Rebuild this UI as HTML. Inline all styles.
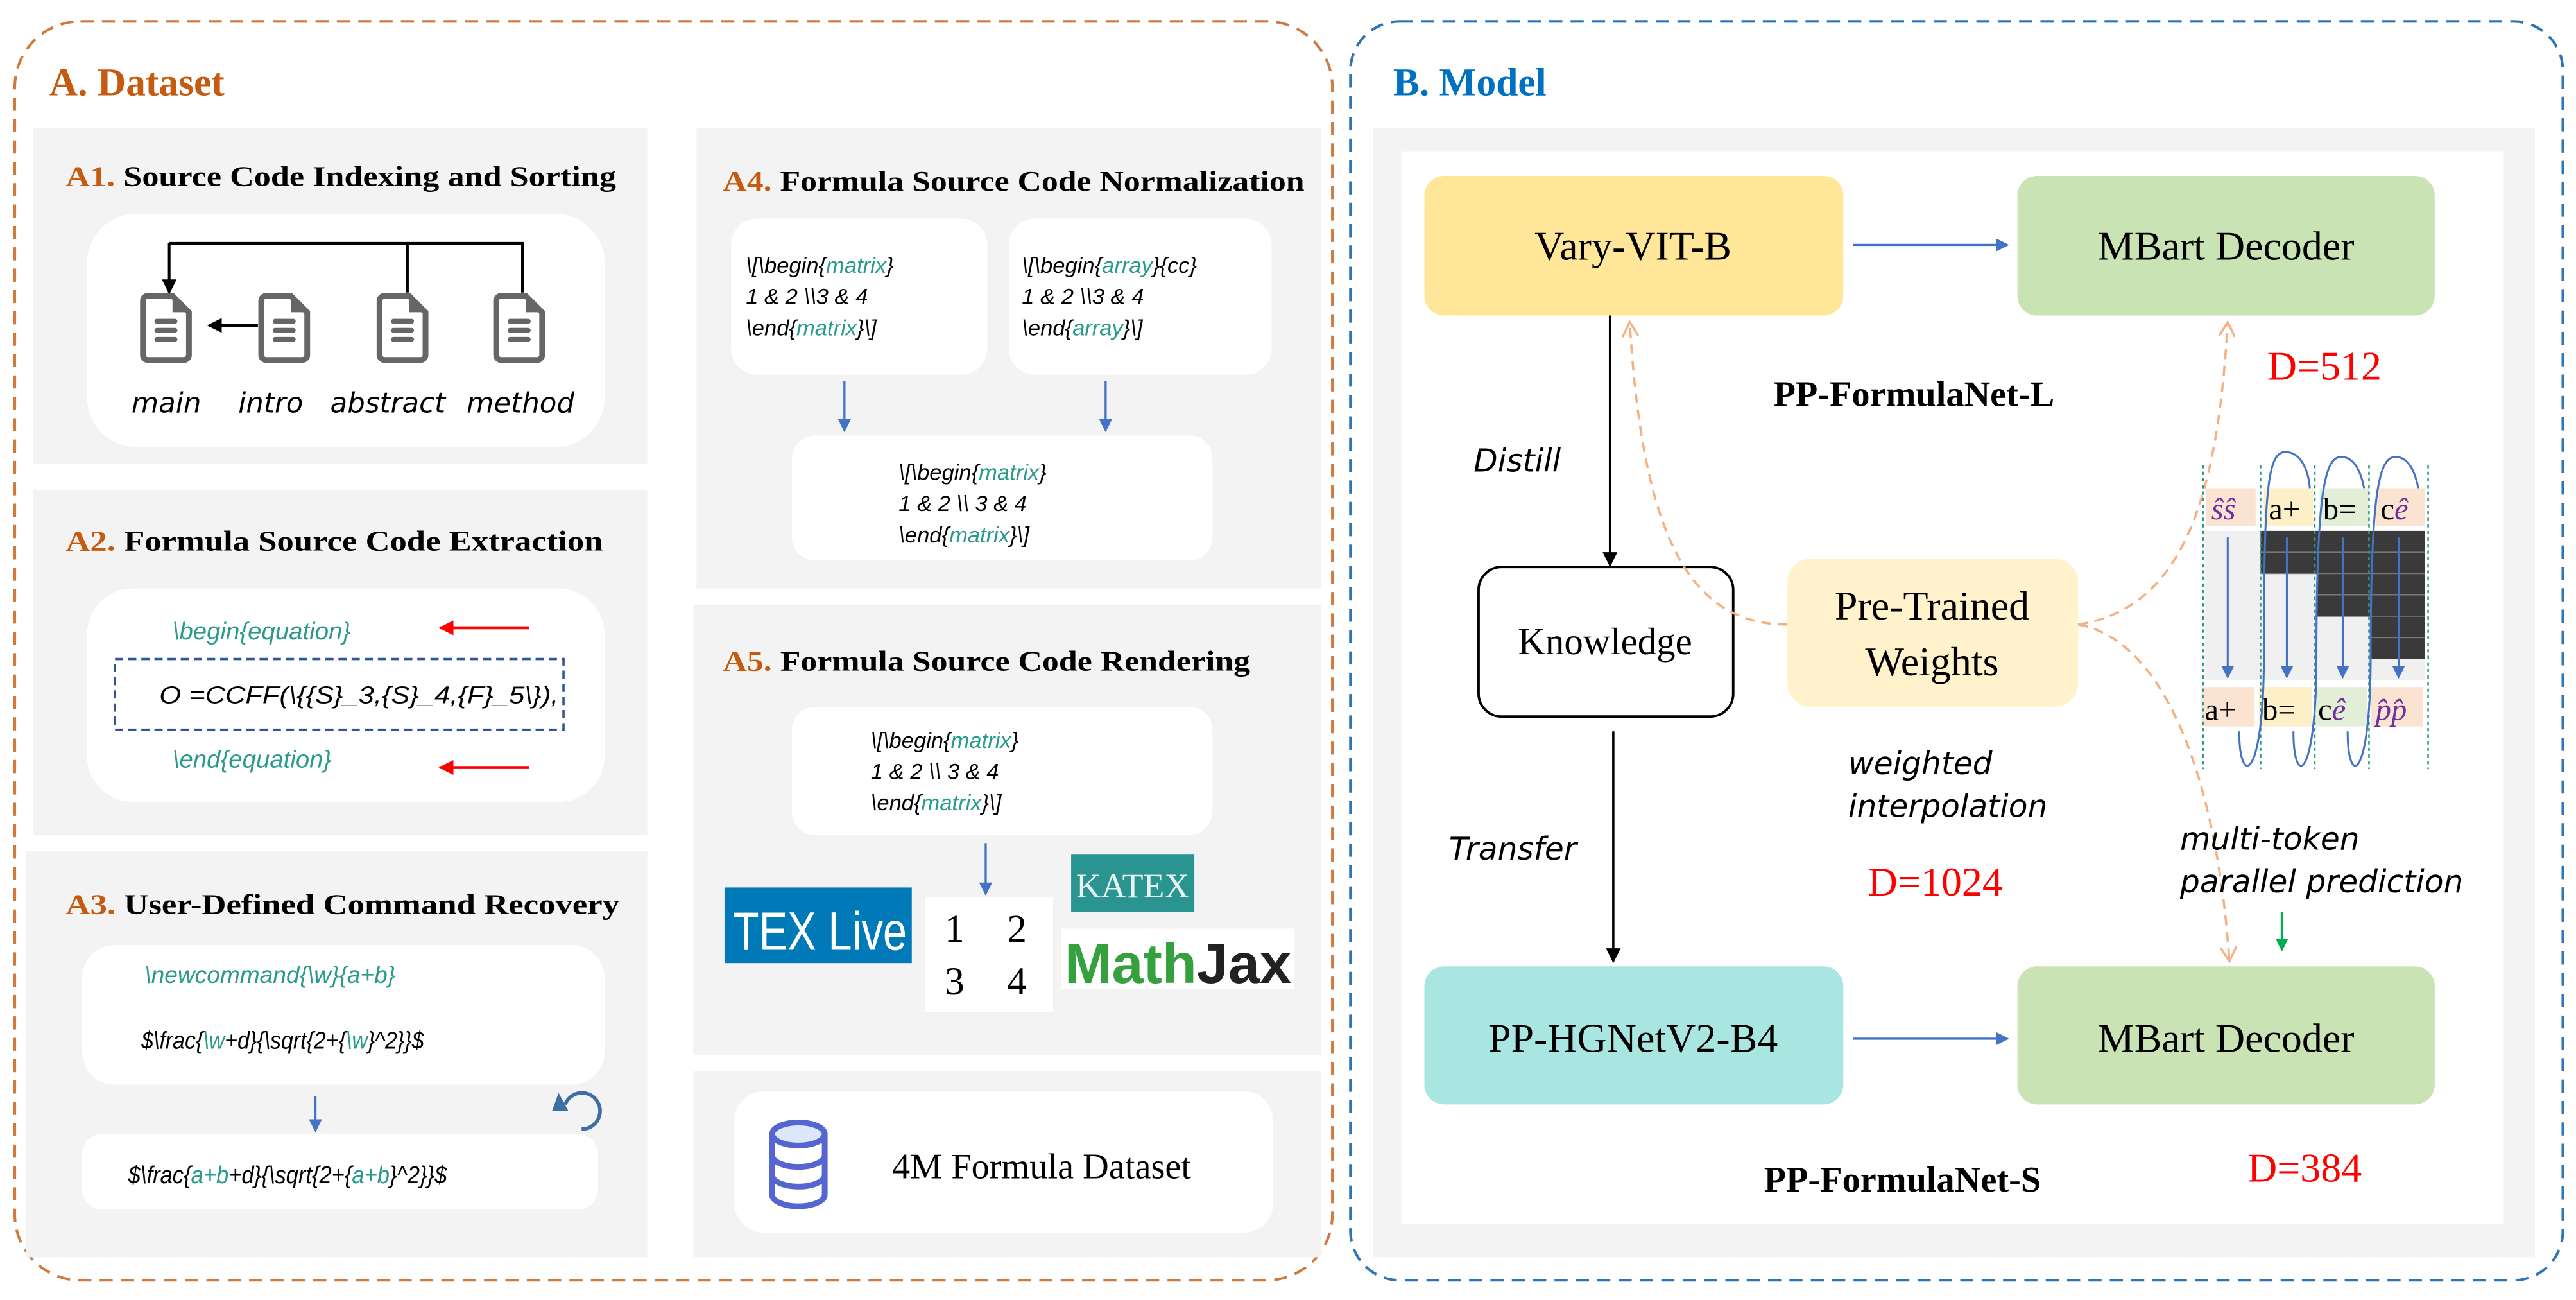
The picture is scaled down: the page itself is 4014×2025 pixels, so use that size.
<!DOCTYPE html>
<html><head><meta charset="utf-8"><style>
html,body{margin:0;padding:0;background:#fff;}
svg{display:block;}
.ti{font-family:"Liberation Serif",serif;font-weight:bold;}
.hw{font-family:"DejaVu Sans",sans-serif;font-style:italic;}
.cd{font-family:"Liberation Sans",sans-serif;font-style:italic;}
.tl{fill:#2a9a8c;}
.sr{font-family:"Liberation Serif",serif;}
</style></head><body>
<svg width="4014" height="2025" viewBox="0 0 1568 791" xmlns="http://www.w3.org/2000/svg">
<defs>
<marker id="ab" markerWidth="8" markerHeight="8" refX="7" refY="4" orient="auto" markerUnits="userSpaceOnUse"><path d="M0,0 L8,4 L0,8 z" fill="#4472c4"/></marker>
<marker id="ak" markerWidth="9" markerHeight="9" refX="8" refY="4.5" orient="auto" markerUnits="userSpaceOnUse"><path d="M0,0 L9,4.5 L0,9 z" fill="#000"/></marker>
<marker id="ar" markerWidth="9" markerHeight="9" refX="8" refY="4.5" orient="auto" markerUnits="userSpaceOnUse"><path d="M0,0 L9,4.5 L0,9 z" fill="#f00"/></marker>
<marker id="ao" markerWidth="10" markerHeight="10" refX="9" refY="5" orient="auto" markerUnits="userSpaceOnUse"><path d="M0,0 L9,5 L0,10" fill="none" stroke="#f4b183" stroke-width="1.3"/></marker>
<marker id="ag" markerWidth="8" markerHeight="8" refX="7" refY="4" orient="auto" markerUnits="userSpaceOnUse"><path d="M0,0 L8,4 L0,8 z" fill="#00b050"/></marker>
<g id="doc"><path d="M2,2 h16 l10,10 v26 a3,3 0 0 1 -3,3 h-22 a3,3 0 0 1 -3,-3 v-33 a3,3 0 0 1 3,-3z" fill="#fff" stroke="#666" stroke-width="3.5"/><path d="M18,2 v10 h10z" fill="#666"/><rect x="7" y="16" width="14" height="3" rx="1.5" fill="#666"/><rect x="7" y="21.5" width="14" height="3" rx="1.5" fill="#666"/><rect x="7" y="27" width="14" height="3" rx="1.5" fill="#666"/></g>
</defs>

<!-- A outer -->
<rect x="9" y="13" width="802" height="766" rx="40" fill="none" stroke="#d07a3e" stroke-width="1.6" stroke-dasharray="8,5"/>
<text x="30" y="58" class="ti" font-size="24" fill="#c55a11">A. Dataset</text>

<!-- A1 -->
<rect x="20" y="78" width="374" height="204" fill="#f3f3f3"/>
<text x="40" y="113" class="ti" font-size="17.5" textLength="335" lengthAdjust="spacingAndGlyphs"><tspan fill="#c55a11">A1.</tspan> Source Code Indexing and Sorting</text>
<rect x="53" y="130" width="315" height="142" rx="30" fill="#fff"/>
<path d="M103,148 H318 V178 M248,148 V178" fill="none" stroke="#000" stroke-width="1.6"/>
<line x1="103" y1="148" x2="103" y2="178" stroke="#000" stroke-width="1.6" marker-end="url(#ak)"/>
<use href="#doc" x="87" y="178"/>
<use href="#doc" x="159" y="178"/>
<use href="#doc" x="231" y="178"/>
<use href="#doc" x="302" y="178"/>
<line x1="157" y1="198" x2="127" y2="198" stroke="#000" stroke-width="1.6" marker-end="url(#ak)"/>
<text x="80" y="251" class="hw" font-size="17">main</text>
<text x="145" y="251" class="hw" font-size="17">intro</text>
<text x="201" y="251" class="hw" font-size="17">abstract</text>
<text x="284" y="251" class="hw" font-size="17">method</text>

<!-- A2 -->
<rect x="20" y="298" width="374" height="210" fill="#f3f3f3"/>
<text x="40" y="335" class="ti" font-size="17.5" textLength="327" lengthAdjust="spacingAndGlyphs"><tspan fill="#c55a11">A2.</tspan>  Formula Source Code Extraction</text>
<rect x="53" y="358" width="315" height="130" rx="28" fill="#fff"/>
<text x="105" y="389" class="cd tl" font-size="15">\begin{equation}</text>
<line x1="322" y1="382" x2="268" y2="382" stroke="#f00" stroke-width="1.8" marker-end="url(#ar)"/>
<rect x="70" y="401" width="273" height="43" fill="none" stroke="#2f5597" stroke-width="1.4" stroke-dasharray="5,3"/>
<text x="97" y="428" class="cd" font-size="15" textLength="243" lengthAdjust="spacingAndGlyphs">O =CCFF(\{{S}_3,{S}_4,{F}_5\}),</text>
<text x="105" y="467" class="cd tl" font-size="15">\end{equation}</text>
<line x1="322" y1="467" x2="268" y2="467" stroke="#f00" stroke-width="1.8" marker-end="url(#ar)"/>

<!-- A3 -->
<rect x="16" y="518" width="378" height="247" fill="#f3f3f3"/>
<text x="40" y="556" class="ti" font-size="17.5" textLength="337" lengthAdjust="spacingAndGlyphs"><tspan fill="#c55a11">A3.</tspan>  User-Defined Command Recovery</text>
<rect x="50" y="575" width="318" height="85" rx="20" fill="#fff"/>
<text x="88" y="598" class="cd tl" font-size="14.5">\newcommand{\w}{a+b}</text>
<text x="86" y="638" class="cd" font-size="15" textLength="172" lengthAdjust="spacingAndGlyphs">$\frac{<tspan class="tl">\w</tspan>+d}{\sqrt{2+{<tspan class="tl">\w</tspan>}^2}}$</text>
<line x1="192" y1="667" x2="192" y2="688" stroke="#4472c4" stroke-width="1.3" marker-end="url(#ab)"/>
<path d="M344,672 A11,11 0 1 1 354,687" fill="none" stroke="#3d6fa5" stroke-width="2.2"/>
<path d="M340,665 L346,676 L336,676 z" fill="#3d6fa5"/>
<rect x="50" y="690" width="314" height="46" rx="12" fill="#fff"/>
<text x="78" y="720" class="cd" font-size="15" textLength="194" lengthAdjust="spacingAndGlyphs">$\frac{<tspan class="tl">a+b</tspan>+d}{\sqrt{2+{<tspan class="tl">a+b</tspan>}^2}}$</text>

<!-- A4 -->
<rect x="424" y="78" width="380" height="280" fill="#f3f3f3"/>
<text x="440" y="116" class="ti" font-size="17.5" textLength="354" lengthAdjust="spacingAndGlyphs"><tspan fill="#c55a11">A4.</tspan> Formula Source Code Normalization</text>
<rect x="445" y="133" width="156" height="95" rx="16" fill="#fff"/>
<rect x="614" y="133" width="160" height="95" rx="16" fill="#fff"/>
<g class="cd" font-size="13.5">
<text x="454" y="166">\[\begin{<tspan class="tl">matrix</tspan>}</text>
<text x="454" y="185">1 &amp; 2 \\3 &amp; 4</text>
<text x="454" y="204">\end{<tspan class="tl">matrix</tspan>}\]</text>
<text x="622" y="166">\[\begin{<tspan class="tl">array</tspan>}{cc}</text>
<text x="622" y="185">1 &amp; 2 \\3 &amp; 4</text>
<text x="622" y="204">\end{<tspan class="tl">array</tspan>}\]</text>
</g>
<line x1="514" y1="232" x2="514" y2="262" stroke="#4472c4" stroke-width="1.3" marker-end="url(#ab)"/>
<line x1="673" y1="232" x2="673" y2="262" stroke="#4472c4" stroke-width="1.3" marker-end="url(#ab)"/>
<rect x="482" y="265" width="256" height="76" rx="14" fill="#fff"/>
<g class="cd" font-size="13.5">
<text x="547" y="292">\[\begin{<tspan class="tl">matrix</tspan>}</text>
<text x="547" y="311">1 &amp; 2 \\ 3 &amp; 4</text>
<text x="547" y="330">\end{<tspan class="tl">matrix</tspan>}\]</text>
</g>

<!-- A5 -->
<rect x="422" y="368" width="382" height="274" fill="#f3f3f3"/>
<text x="440" y="408" class="ti" font-size="17.5" textLength="321" lengthAdjust="spacingAndGlyphs"><tspan fill="#c55a11">A5.</tspan> Formula Source Code Rendering</text>
<rect x="482" y="430" width="256" height="78" rx="14" fill="#fff"/>
<g class="cd" font-size="13.5">
<text x="530" y="455">\[\begin{<tspan class="tl">matrix</tspan>}</text>
<text x="530" y="474">1 &amp; 2 \\ 3 &amp; 4</text>
<text x="530" y="493">\end{<tspan class="tl">matrix</tspan>}\]</text>
</g>
<line x1="600" y1="513" x2="600" y2="544" stroke="#4472c4" stroke-width="1.3" marker-end="url(#ab)"/>
<rect x="441" y="540" width="114" height="46" fill="#0079b8"/>
<text x="446" y="578" font-family="Liberation Sans Narrow,Liberation Sans,sans-serif" font-size="33" fill="#fff" textLength="106" lengthAdjust="spacingAndGlyphs">TEX Live</text>
<rect x="563" y="546" width="78" height="70" fill="#fff"/>
<g class="sr" font-size="24"><text x="575" y="573">1</text><text x="613" y="573">2</text><text x="575" y="605">3</text><text x="613" y="605">4</text></g>
<rect x="652" y="520" width="75" height="35" fill="#2a9590"/>
<text x="655" y="546" class="sr" font-size="21" fill="#e8f4f2" textLength="69" lengthAdjust="spacingAndGlyphs">KATEX</text>
<rect x="646" y="565" width="142" height="37" fill="#fff"/>
<text x="648" y="598" font-family="Liberation Sans,sans-serif" font-weight="bold" font-size="34" textLength="138" lengthAdjust="spacingAndGlyphs"><tspan fill="#35a03e">Math</tspan><tspan fill="#222">Jax</tspan></text>

<!-- dataset -->
<rect x="422" y="652" width="382" height="113" fill="#f3f3f3"/>
<rect x="447" y="664" width="328" height="86" rx="18" fill="#fff"/>
<g fill="#fff" stroke="#5566d0" stroke-width="3.5">
<path d="M470,690 V727 A16,7 0 0 0 502,727 V690"/>
<ellipse cx="486" cy="690" rx="16" ry="7" fill="#dde6fb"/>
<path d="M470,703 A16,7 0 0 0 502,703 M470,715 A16,7 0 0 0 502,715" fill="none"/>
</g>
<text x="543" y="717" class="sr" font-size="22">4M Formula Dataset</text>

<!-- B -->
<rect x="822" y="13" width="738" height="766" rx="30" fill="none" stroke="#2e75b6" stroke-width="1.6" stroke-dasharray="8,5"/>
<text x="848" y="58" class="ti" font-size="24" fill="#0070c0">B. Model</text>
<rect x="836" y="78" width="707" height="687" fill="#f3f3f3"/>
<rect x="853" y="92" width="671" height="653" fill="#fff"/>

<rect x="867" y="107" width="255" height="85" rx="12" fill="#ffe699"/>
<text x="994" y="158" class="sr" font-size="25" text-anchor="middle">Vary-VIT-B</text>
<rect x="1228" y="107" width="254" height="85" rx="12" fill="#c9e3b4"/>
<text x="1355" y="158" class="sr" font-size="25" text-anchor="middle">MBart Decoder</text>
<line x1="1128" y1="149" x2="1222" y2="149" stroke="#4472c4" stroke-width="1.3" marker-end="url(#ab)"/>
<text x="1165" y="247" class="ti" font-size="22" text-anchor="middle">PP-FormulaNet-L</text>
<text x="1380" y="231" class="sr" font-size="25" fill="#f00">D=512</text>

<line x1="980" y1="192" x2="980" y2="344" stroke="#000" stroke-width="1.4" marker-end="url(#ak)"/>
<text x="897" y="287" class="hw" font-size="19">Distill</text>
<rect x="900" y="345" width="155" height="91" rx="14" fill="#fff" stroke="#000" stroke-width="1.5"/>
<text x="977" y="398" class="sr" font-size="23" text-anchor="middle">Knowledge</text>
<rect x="1088" y="340" width="177" height="90" rx="14" fill="#fff2cc"/>
<text x="1176" y="377" class="sr" font-size="25" text-anchor="middle">Pre-Trained</text>
<text x="1176" y="411" class="sr" font-size="25" text-anchor="middle">Weights</text>
<text x="1125" y="471" class="hw" font-size="19">weighted</text>
<text x="1125" y="497" class="hw" font-size="19">interpolation</text>
<text x="1137" y="545" class="sr" font-size="25" fill="#f00">D=1024</text>

<line x1="982" y1="445" x2="982" y2="585" stroke="#000" stroke-width="1.4" marker-end="url(#ak)"/>
<text x="882" y="523" class="hw" font-size="19">Transfer</text>

<rect x="867" y="588" width="255" height="84" rx="12" fill="#a9e6e2"/>
<text x="994" y="640" class="sr" font-size="25" text-anchor="middle">PP-HGNetV2-B4</text>
<rect x="1228" y="588" width="254" height="84" rx="12" fill="#c9e3b4"/>
<text x="1355" y="640" class="sr" font-size="25" text-anchor="middle">MBart Decoder</text>
<line x1="1128" y1="632" x2="1222" y2="632" stroke="#4472c4" stroke-width="1.3" marker-end="url(#ab)"/>
<text x="1158" y="725" class="ti" font-size="22" text-anchor="middle">PP-FormulaNet-S</text>
<text x="1368" y="719" class="sr" font-size="25" fill="#f00">D=384</text>

<!-- dashed orange curves -->
<g fill="none" stroke="#f4b183" stroke-width="1.4" stroke-dasharray="6,4">
<path d="M1088,380 C1030,380 1000,330 992,196" marker-end="url(#ao)"/>
<path d="M1265,380 C1330,370 1350,300 1356,196" marker-end="url(#ao)"/>
<path d="M1265,380 C1320,390 1350,480 1357,585" marker-end="url(#ao)"/>
</g>

<!-- token grid -->
<rect x="1342" y="323" width="134" height="91" fill="#f0f0f0"/>
<rect x="1376" y="323" width="100" height="26" fill="#3a3a3a"/>
<rect x="1410" y="349" width="66" height="26" fill="#3a3a3a"/>
<rect x="1443" y="375" width="33" height="26" fill="#3a3a3a"/>
<g stroke="#777" stroke-width="0.6"><line x1="1376" y1="336" x2="1476" y2="336"/><line x1="1376" y1="349" x2="1476" y2="349"/><line x1="1410" y1="362" x2="1476" y2="362"/><line x1="1410" y1="375" x2="1476" y2="375"/><line x1="1443" y1="388" x2="1476" y2="388"/></g>
<rect x="1343" y="297" width="30" height="23" fill="#fbe3d2"/>
<rect x="1378" y="297" width="30" height="23" fill="#fdf0c8"/>
<rect x="1412" y="297" width="30" height="23" fill="#e2efd6"/>
<rect x="1446" y="297" width="30" height="23" fill="#fbe3d2"/>
<rect x="1340" y="418" width="32" height="24" fill="#fbe3d2"/>
<rect x="1375" y="418" width="32" height="24" fill="#fdf0c8"/>
<rect x="1409" y="418" width="32" height="24" fill="#e2efd6"/>
<rect x="1443" y="418" width="32" height="24" fill="#fbe3d2"/>
<g stroke="#2a9a8c" stroke-width="1" stroke-dasharray="2,2"><line x1="1341" y1="283" x2="1341" y2="468"/><line x1="1376" y1="283" x2="1376" y2="468"/><line x1="1409" y1="283" x2="1409" y2="468"/><line x1="1442" y1="283" x2="1442" y2="468"/><line x1="1478" y1="283" x2="1478" y2="468"/></g>
<g class="sr" font-size="19">
<text x="1346" y="316" fill="#7030a0" font-style="italic">ŝŝ</text>
<text x="1381" y="316">a+</text><text x="1414" y="316">b=</text><text x="1449" y="316">c<tspan fill="#7030a0" font-style="italic">ê</tspan></text>
<text x="1342" y="438">a+</text><text x="1377" y="438">b=</text><text x="1411" y="438">c<tspan fill="#7030a0" font-style="italic">ê</tspan></text>
<text x="1446" y="438" fill="#7030a0" font-style="italic">p̂p̂</text>
</g>
<g stroke="#4472c4" stroke-width="1.2" fill="none">
<line x1="1356" y1="327" x2="1356" y2="412" marker-end="url(#ab)"/>
<line x1="1392" y1="327" x2="1392" y2="412" marker-end="url(#ab)"/>
<line x1="1426" y1="327" x2="1426" y2="412" marker-end="url(#ab)"/>
<line x1="1460" y1="327" x2="1460" y2="412" marker-end="url(#ab)"/>
<path d="M1363,445 C1363,480 1378,475 1378,400 C1378,300 1380,275 1391,275 C1400,275 1405,285 1406,297"/>
<path d="M1396,445 C1396,480 1410,475 1410,400 C1410,300 1415,278 1425,278 C1433,278 1437,287 1439,297"/>
<path d="M1429,445 C1429,480 1443,475 1443,400 C1443,300 1448,278 1458,278 C1466,278 1470,287 1472,297"/>
</g>
<text x="1327" y="517" class="hw" font-size="19">multi-token</text>
<text x="1327" y="543" class="hw" font-size="19">parallel prediction</text>
<line x1="1389" y1="555" x2="1389" y2="578" stroke="#00b050" stroke-width="1.5" marker-end="url(#ag)"/>
</svg>
</body></html>
